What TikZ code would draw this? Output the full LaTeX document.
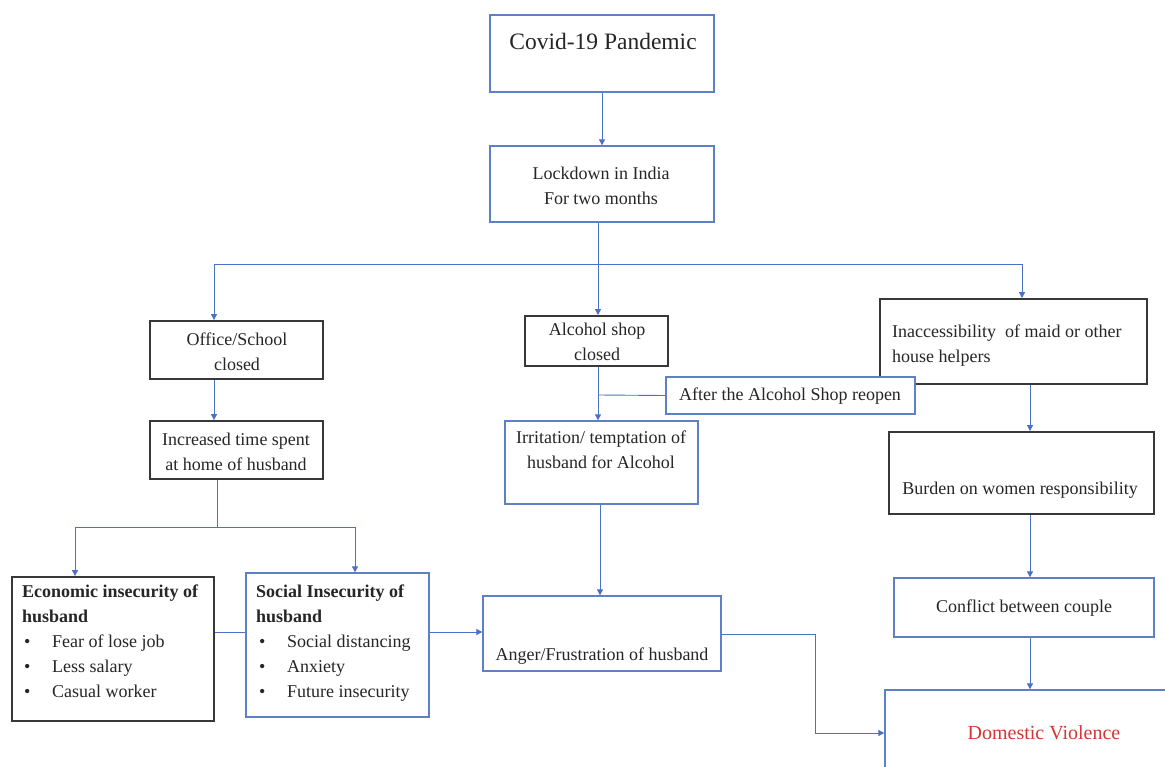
\documentclass[tikz,border=0pt]{standalone}
\usepackage{fontspec}
\setmainfont{LiberationSerif}[Extension=.ttf,UprightFont=*-Regular,BoldFont=*-Bold,ItalicFont=*-Italic,BoldItalicFont=*-BoldItalic]
\usetikzlibrary{arrows.meta}
\definecolor{lnblue}{HTML}{4A72C2}
\definecolor{bxblue}{HTML}{5E80C6}
\definecolor{bxblack}{HTML}{383838}
\definecolor{txt}{HTML}{262626}
\definecolor{dvred}{HTML}{D43535}
\begin{document}
\begin{tikzpicture}[x=1pt,y=-1pt,
  bluebox/.style={draw=bxblue,fill=white,line width=1.3pt,inner sep=0pt},
  blackbox/.style={draw=bxblack,fill=white,line width=1.8pt,inner sep=0pt},
  lbl/.style={text=txt,font=\fontsize{18}{25}\selectfont,align=center,inner sep=0pt},
  conn/.style={draw=lnblue,line width=0.9pt},
  arr/.style={conn,-{Triangle[width=6pt,length=6pt]}},
]
\useasboundingbox (0,0) rectangle (1165,767);
\fill[white] (0,0) rectangle (1165,767);

% boxes
\node[bluebox,minimum width=224pt,minimum height=77pt] (covid) at (602,53.5) {};
\node[lbl,font=\fontsize{23.5}{28}\selectfont] (covidt) at (603,41) {Covid-19 Pandemic};
\node[bluebox,minimum width=224pt,minimum height=76pt] (lock) at (602,184) {};
\node[lbl] (lockt) at (601,186) {Lockdown in India\\For two months};

\node[blackbox,minimum width=173pt,minimum height=58pt] (office) at (236.5,350) {};
\node[lbl] (officet) at (237,352) {Office/School\\closed};
\node[blackbox,minimum width=173pt,minimum height=58pt] (incr) at (236.5,450) {};
\node[lbl] (incrt) at (236,452) {Increased time spent\\at home of husband};

\node[blackbox,minimum width=202pt,minimum height=144pt] (econ) at (113,649) {};
\node[lbl,align=left,anchor=north west] (econt) at (22,585) {\textbf{Economic insecurity of}\\\textbf{husband}\\\makebox[30pt][l]{\hspace{2pt}\textbullet}Fear of lose job\\\makebox[30pt][l]{\hspace{2pt}\textbullet}Less salary\\\makebox[30pt][l]{\hspace{2pt}\textbullet}Casual worker};
\node[bluebox,minimum width=183pt,minimum height=144pt] (soc) at (337.5,645) {};
\node[lbl,align=left,anchor=north west] (soct) at (256,585) {\textbf{Social Insecurity of}\\\textbf{husband}\\\makebox[31pt][l]{\hspace{3pt}\textbullet}Social distancing\\\makebox[31pt][l]{\hspace{3pt}\textbullet}Anxiety\\\makebox[31pt][l]{\hspace{3pt}\textbullet}Future insecurity};

\node[blackbox,minimum width=143pt,minimum height=50pt] (alc) at (596.5,341) {};
\node[lbl] (alct) at (597,342) {Alcohol shop\\closed};
\node[bluebox,minimum width=193pt,minimum height=83pt] (irr) at (601.5,462.5) {};
\node[lbl] (irrt) at (601,450) {Irritation/ temptation of\\husband for Alcohol};
\node[bluebox,minimum width=238pt,minimum height=75pt] (anger) at (602,633.5) {};
\node[lbl] (angert) at (602,656) {Anger/Frustration of husband};

\node[blackbox,minimum width=267pt,minimum height=85pt] (inacc) at (1013.5,341.5) {};
\node[lbl,align=left,anchor=west] (inacct) at (892,346) {Inaccessibility\ \ of maid or other\\house helpers};
\node[bluebox,minimum width=249pt,minimum height=37pt] (after) at (790.5,395.5) {};
\node[lbl] (aftert) at (790,396) {After the Alcohol Shop reopen};
\node[blackbox,minimum width=265pt,minimum height=82pt] (burden) at (1021.5,473) {};
\node[lbl] (burdent) at (1020,490) {Burden on women responsibility};
\node[bluebox,minimum width=260pt,minimum height=59pt] (conflict) at (1024,607.5) {};
\node[lbl] (conflictt) at (1024,608) {Conflict between couple};
\node[bluebox,minimum width=295pt,minimum height=100pt] (dv) at (1032.5,740) {};
\node[lbl,text=dvred,font=\fontsize{20}{24}\selectfont] (dvt) at (1044,733) {Domestic Violence};

% connectors
\draw[arr] (covid.south) -- (lock.north);
\coordinate (jm) at (598,264);
\coordinate (jl) at (214,264);
\coordinate (jr) at (1022,264);
\draw[conn] (lock.south -| jm) -- (jm);
\draw[arr] (jm) -- (jl) -- (jl |- office.north);
\draw[arr] (jm) -- (jr) -- (jr |- inacc.north);
\draw[arr] (jm) -- (jm |- alc.north);
\draw[arr] (office.south -| jl) -- (incr.north -| jl);

\coordinate (jb) at (217,527);
\coordinate (jbl) at (75,527);
\coordinate (jbr) at (355,527);
\draw[conn] (incr.south -| jb) -- (jb);
\draw[arr] (jb) -- (jbl) -- (jbl |- econ.north);
\draw[arr] (jb) -- (jbr) -- (jbr |- soc.north);

\coordinate (ys) at (0,632);
\draw[conn] (econ.east |- ys) -- (soc.west |- ys);
\draw[arr] (soc.east |- ys) -- (anger.west |- ys);

\coordinate (ja) at (598,395);
\draw[arr] (alc.south -| ja) -- (irr.north -| ja);
\draw[conn] (after.west) -- (ja);
\coordinate (xi) at (600,0);
\draw[arr] (irr.south -| xi) -- (anger.north -| xi);

\coordinate (jd) at (815,634);
\coordinate (yd) at (0,733);
\draw[arr] (anger.east |- jd) -- (jd) |- (dv.west |- yd);

\coordinate (xr) at (1030,0);
\draw[arr] (inacc.south -| xr) -- (burden.north -| xr);
\draw[arr] (burden.south -| xr) -- (conflict.north -| xr);
\draw[arr] (conflict.south -| xr) -- (dv.north -| xr);
\end{tikzpicture}
\end{document}
